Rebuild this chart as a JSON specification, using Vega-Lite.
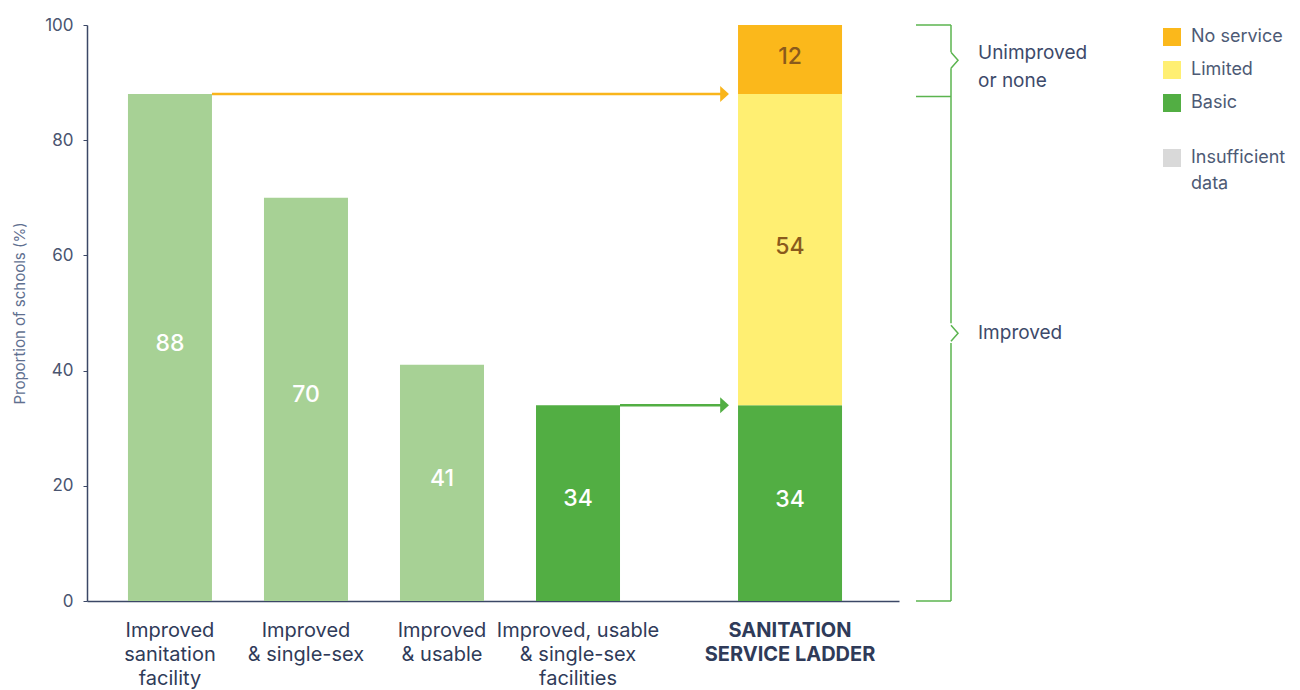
{
  "$schema": "https://vega.github.io/schema/vega-lite/v6.json",
  "width": 812,
  "height": 576,
  "autosize": {"type": "none"},
  "padding": {"left": 87, "top": 25, "right": 401, "bottom": 89},
  "background": "white",
  "config": {"view": {"stroke": null}, "font": "Inter", "text": {"font": "Inter"}, "style": {"guide-label": {"lineHeight": 26}}},
  "datasets": {
    "bars": [
      {"cat": "Improved sanitation facility", "value": 88},
      {"cat": "Improved & single-sex", "value": 70},
      {"cat": "Improved & usable", "value": 41},
      {"cat": "Improved, usable & single-sex facilities", "value": 34}
    ],
    "ladder": [
      {"cat": "SANITATION SERVICE LADDER", "service": "Basic", "rank": 1, "value": 34},
      {"cat": "SANITATION SERVICE LADDER", "service": "Limited", "rank": 2, "value": 54},
      {"cat": "SANITATION SERVICE LADDER", "service": "No service", "rank": 3, "value": 12}
    ],
    "arrows": [
      {"cat": "Improved sanitation facility", "to": "SANITATION SERVICE LADDER", "value": 88},
      {"cat": "Improved, usable & single-sex facilities", "to": "SANITATION SERVICE LADDER", "value": 34}
    ],
    "bracketV": [
      {"top": 100, "bottom": 95.3},
      {"top": 92.5, "bottom": 48.2},
      {"top": 44.8, "bottom": 0}
    ],
    "bracketH": [
      {"at": 100},
      {"at": 87.6},
      {"at": 0}
    ],
    "notches": [
      {"at": 93.9},
      {"at": 46.5}
    ],
    "notes": [
      {"label": "Unimproved\nor none", "at": 95.1},
      {"label": "Improved", "at": 46.5}
    ]
  },
  "layer": [
    {
      "data": {"name": "bars"},
      "mark": {"type": "bar", "width": 84},
      "encoding": {
        "x": {
          "field": "cat", "type": "nominal",
          "scale": {"domain": ["s0", "Improved sanitation facility", "s2", "s3", "s4", "Improved & single-sex", "s6", "s7", "s8", "Improved & usable", "s10", "s11", "s12", "Improved, usable & single-sex facilities", "s14", "s15", "s16", "s17", "s18", "SANITATION SERVICE LADDER", "s20", "s21"], "paddingInner": 0, "paddingOuter": 0.94},
          "axis": {
            "title": null, "ticks": false, "domainColor": "#3b4766", "domainWidth": 1.5,
            "labelExpr": "datum.value == 'Improved sanitation facility' ? ['Improved','sanitation','facility'] : datum.value == 'Improved & single-sex' ? ['Improved','& single-sex'] : datum.value == 'Improved & usable' ? ['Improved','& usable'] : datum.value == 'Improved, usable & single-sex facilities' ? ['Improved, usable','& single-sex','facilities'] : datum.value == 'SANITATION SERVICE LADDER' ? ['SANITATION','SERVICE LADDER'] : ''",
            "labelFontSize": 20, "labelColor": "#2f3b59", "labelLineHeight": 24, "labelPadding": 19,
            "labelAngle": 0, "labelOverlap": false, "labelLimit": 300, "labelFont": "Inter",
            "labelFontWeight": {"condition": {"test": "datum.value == 'SANITATION SERVICE LADDER'", "value": "bold"}, "value": "normal"},
            "labelOffset": {"condition": {"test": "datum.value == 'SANITATION SERVICE LADDER'", "value": 8}, "value": 0}
          }
        },
        "y": {
          "field": "value", "type": "quantitative",
          "scale": {"domain": [0, 100], "nice": false},
          "axis": {
            "values": [0, 20, 40, 60, 80, 100], "title": "Proportion of schools (%)",
            "titleFontSize": 15, "titleFontWeight": "normal", "titleColor": "#5f7090", "titlePadding": 17, "titleFont": "Inter",
            "labelFontSize": 17, "labelColor": "#4a5570", "labelPadding": 10, "labelFont": "Inter",
            "tickSize": 4, "tickColor": "#3b4766", "domainColor": "#3b4766", "domainWidth": 1.5, "grid": false
          }
        },
        "color": {"condition": {"test": "datum.cat == 'Improved, usable & single-sex facilities'", "value": "#52AE43"}, "value": "#A7D195"}
      }
    },
    {
      "data": {"name": "bars"},
      "mark": {"type": "text", "fontSize": 23, "fontWeight": 500, "color": "white", "dy": -4},
      "encoding": {
        "x": {"field": "cat", "type": "nominal", "scale": {"domain": ["s0", "Improved sanitation facility", "s2", "s3", "s4", "Improved & single-sex", "s6", "s7", "s8", "Improved & usable", "s10", "s11", "s12", "Improved, usable & single-sex facilities", "s14", "s15", "s16", "s17", "s18", "SANITATION SERVICE LADDER", "s20", "s21"], "paddingInner": 0, "paddingOuter": 0.94}},
        "y": {"field": "value", "type": "quantitative", "stack": "zero", "bandPosition": 0.5, "scale": {"domain": [0, 100], "nice": false}},
        "detail": {"field": "cat"},
        "text": {"field": "value", "type": "quantitative"}
      }
    },
    {
      "data": {"name": "arrows"},
      "mark": {"type": "rule", "strokeWidth": 2.5},
      "encoding": {
        "x": {"field": "cat", "type": "nominal", "bandPosition": 1.735, "scale": {"domain": ["s0", "Improved sanitation facility", "s2", "s3", "s4", "Improved & single-sex", "s6", "s7", "s8", "Improved & usable", "s10", "s11", "s12", "Improved, usable & single-sex facilities", "s14", "s15", "s16", "s17", "s18", "SANITATION SERVICE LADDER", "s20", "s21"], "paddingInner": 0, "paddingOuter": 0.94}},
        "x2": {"field": "to", "bandPosition": -1.265},
        "y": {"field": "value", "type": "quantitative", "scale": {"domain": [0, 100], "nice": false}},
        "color": {"condition": {"test": "datum.value > 50", "value": "#F9B51B"}, "value": "#52AE43"}
      }
    },
    {
      "data": {"name": "arrows"},
      "mark": {"type": "point", "shape": "M-0.55,-1L0.55,0L-0.55,1Z", "size": 256, "filled": true, "opacity": 1},
      "encoding": {
        "x": {"field": "to", "type": "nominal", "bandPosition": -1.19, "scale": {"domain": ["s0", "Improved sanitation facility", "s2", "s3", "s4", "Improved & single-sex", "s6", "s7", "s8", "Improved & usable", "s10", "s11", "s12", "Improved, usable & single-sex facilities", "s14", "s15", "s16", "s17", "s18", "SANITATION SERVICE LADDER", "s20", "s21"], "paddingInner": 0, "paddingOuter": 0.94}},
        "y": {"field": "value", "type": "quantitative", "scale": {"domain": [0, 100], "nice": false}},
        "color": {"condition": {"test": "datum.value > 50", "value": "#F9B51B"}, "value": "#52AE43"}
      }
    },
    {
      "data": {"name": "ladder"},
      "mark": {"type": "bar", "width": 104, "xOffset": 8},
      "encoding": {
        "x": {"field": "cat", "type": "nominal", "scale": {"domain": ["s0", "Improved sanitation facility", "s2", "s3", "s4", "Improved & single-sex", "s6", "s7", "s8", "Improved & usable", "s10", "s11", "s12", "Improved, usable & single-sex facilities", "s14", "s15", "s16", "s17", "s18", "SANITATION SERVICE LADDER", "s20", "s21"], "paddingInner": 0, "paddingOuter": 0.94}},
        "y": {"field": "value", "type": "quantitative", "stack": "zero", "scale": {"domain": [0, 100], "nice": false}},
        "order": {"field": "rank", "type": "quantitative"},
        "color": {
          "field": "service", "type": "nominal",
          "scale": {"domain": ["No service", "Limited", "Basic"], "range": ["#FBB81B", "#FFEF72", "#52AE43"]},
          "legend": {
            "title": null, "orient": "none", "legendX": 1076, "legendY": 3, "padding": 0,
            "symbolType": "square", "symbolSize": 324, "symbolStrokeWidth": 0, "symbolOpacity": 1,
            "labelFontSize": 18, "labelColor": "#4d5a75", "labelOffset": 10, "labelFont": "Inter", "rowPadding": 15
          }
        }
      }
    },
    {
      "data": {"name": "ladder"},
      "mark": {"type": "text", "fontSize": 23, "fontWeight": 500, "xOffset": 8, "dy": -3},
      "encoding": {
        "x": {"field": "cat", "type": "nominal", "scale": {"domain": ["s0", "Improved sanitation facility", "s2", "s3", "s4", "Improved & single-sex", "s6", "s7", "s8", "Improved & usable", "s10", "s11", "s12", "Improved, usable & single-sex facilities", "s14", "s15", "s16", "s17", "s18", "SANITATION SERVICE LADDER", "s20", "s21"], "paddingInner": 0, "paddingOuter": 0.94}},
        "y": {"field": "value", "type": "quantitative", "stack": "zero", "bandPosition": 0.5, "scale": {"domain": [0, 100], "nice": false}},
        "order": {"field": "rank", "type": "quantitative"},
        "detail": {"field": "service"},
        "text": {"field": "value", "type": "quantitative"},
        "color": {"condition": {"test": "datum.service == 'Basic'", "value": "white"}, "value": "#8A5A1C"}
      }
    },
    {
      "data": {"name": "bracketV"},
      "mark": {"type": "rule", "x": {"expr": "width + 52"}, "color": "#5BB44F", "strokeWidth": 1.5},
      "encoding": {
        "y": {"field": "top", "type": "quantitative", "scale": {"domain": [0, 100], "nice": false}},
        "y2": {"field": "bottom"}
      }
    },
    {
      "data": {"name": "bracketH"},
      "mark": {"type": "rule", "x": {"expr": "width + 17"}, "x2": {"expr": "width + 52"}, "color": "#5BB44F", "strokeWidth": 1.5},
      "encoding": {
        "y": {"field": "at", "type": "quantitative", "scale": {"domain": [0, 100], "nice": false}}
      }
    },
    {
      "data": {"name": "notches"},
      "mark": {"type": "point", "shape": "M-0.44,-1L0.44,0L-0.44,1", "size": 256, "filled": false, "opacity": 1, "x": {"expr": "width + 55.5"}, "color": "#5BB44F", "strokeWidth": 1.5},
      "encoding": {
        "y": {"field": "at", "type": "quantitative", "scale": {"domain": [0, 100], "nice": false}}
      }
    },
    {
      "data": {"name": "notes"},
      "mark": {"type": "text", "align": "left", "baseline": "middle", "x": {"expr": "width + 79"}, "fontSize": 19, "lineBreak": "\n", "lineHeight": 28, "color": "#3d4a6a"},
      "encoding": {
        "y": {"field": "at", "type": "quantitative", "scale": {"domain": [0, 100], "nice": false}},
        "text": {"field": "label", "type": "nominal"}
      }
    },
    {
      "data": {"name": "notes"},
      "mark": {"type": "point", "filled": true, "opacity": 0, "color": "#D9D9D9", "x": {"expr": "width + 300"}},
      "encoding": {
        "y": {"field": "at", "type": "quantitative", "scale": {"domain": [0, 100], "nice": false}},
        "shape": {
          "datum": "Insufficient data",
          "scale": {"domain": ["Insufficient data"], "range": ["square"]},
          "legend": {
            "title": null, "orient": "none", "legendX": 1076, "legendY": 124, "padding": 0,
            "symbolType": "square", "symbolSize": 324, "symbolStrokeWidth": 0, "symbolOpacity": 1, "symbolFillColor": "#D9D9D9",
            "labelFontSize": 18, "labelColor": "#4d5a75", "labelOffset": 10, "labelFont": "Inter",
            "labelExpr": "['Insufficient', 'data']",
            "encode": {"labels": {"enter": {"lineHeight": {"value": 26}}, "update": {"lineHeight": {"value": 26}}}}
          }
        }
      }
    }
  ]
}
